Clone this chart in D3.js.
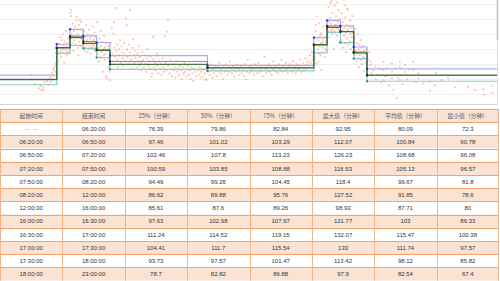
<!DOCTYPE html>
<html><head><meta charset="utf-8">
<script src="https://cdn.jsdelivr.net/npm/d3@7/dist/d3.min.js"></script>
<style>body{margin:0;background:#fff;overflow:hidden}svg{display:block}</style>
</head><body>
<svg id="c" width="500" height="281"></svg>
<script>
// ---------- DATA ----------
const startTimes = ["— —","06:20:00","06:50:00","07:20:00","07:50:00","08:20:00","12:00:00","16:00:00","16:30:00","17:00:00","17:30:00","18:00:00"];
const endTimes   = ["06:20:00","06:50:00","07:20:00","07:50:00","08:20:00","12:00:00","16:00:00","16:30:00","17:00:00","17:30:00","18:00:00","23:00:00"];
const p25  = [76.39,97.46,102.46,100.59,94.49,86.62,85.61,97.63,111.24,104.41,93.73,78.7];
const p50  = [79.86,101.02,107.8,103.85,99.26,89.88,87.6,102.98,114.52,111.7,97.57,82.82];
const p75  = [82.84,103.29,113.23,108.88,104.45,95.76,89.26,107.67,119.15,115.54,101.47,86.88];
const maxV = [92.95,112.07,126.23,116.53,118.4,127.52,98.93,121.77,132.07,133,113.42,97.9];
const meanV= [80.09,100.84,108.68,105.13,99.67,91.85,87.71,103,115.47,111.74,98.12,82.54];
const minV = [72.3,90.78,96.08,96.57,81.8,78.6,80,86.33,100.38,97.57,85.82,67.4];
const headers = ["起始时间","结束时间","25%（分钟）","50%（分钟）","75%（分钟）","最大值（分钟）","平均值（分钟）","最小值（分钟）"];
const gridValues = [70,80,90,100,110,120,130];
const timeDomain = [252, 1380];      // minutes since midnight
const valueDomain = [63.6, 132.7];   // minutes
// observed trip durations: [minute of day, duration]
const scatterPoints = [
[323,82.9],[331,76.9],[340,74],[344,75.6],[345,72.9],[349,72.9],[350,74.5],[353,78.2],[358,78.9],[360,80.2],[362,76.5],[365,81.5],[366,78.2],[369,84.2],[371,82.2],[372,86.2],[374,87.5],[376,85],[377,89],[378,90.5],
[381,95],[382,99],[383,92],[384,104],[385,101],[386,97],[387,108],[388,103],[389,99],[390,95],[391,106],[392,101],[393,98],[394,110],[395,103],[396,100],[397,91],[398,105],[399,97],[400,102],[401,112],[402,99],[403,104],[404,96],[405,101],[406,107],[407,98],[408,103],[409,100],
[411,124],[412,122],[413,126],[414,110],[415,104],[416,117],[417,108],[418,99],[419,112],[420,106],[421,115],[422,103],[423,109],[424,119],[425,121.6],[426,113],[427,101],[428,110],[429,96],[430,116],[431,105],[432,119.4],[433,108],[434,102],[435,118],[436,107],[437,113],[438,104],[439,110],
[441,112],[442,104],[443,99],[444,108],[445,101],[446,116],[447,103],[448,106],[449,98],[450,110],[451,104],[452,100],[453,113],[454,102],[455,107],[456,97],[457,105],[458,109],[459,101],[460,103],[461,115],[462,100],[463,106],[464,102],[465,111],[466,99],[467,104],[468,108],[469,101],
[471,118],[472,104],[473,97],[474,101],[475,92],[476,107],[477,99],[478,95],[479,112],[480,102],[481,94],[482,98],[483,105],[484,85],[485,100],[486,96],[487,109],[488,93],[489,101],[490,97],[491,82],[492,104],[493,80.7],[494,99],[495,88],[496,102],[497,94],[498,100],[499,85],
[500,79.5],[502,104],[504,113.9],[505,97],[506,92],[508,110.5],[509,118],[510,101],[511,95],[513,127.5],[514,99],[516,103],[517,93],[518,88],[520,100],[521,96],[523,106],[524,91],[526,102],[527,98],[529,94],[530,89],[532,104],[533,97],[535,92],[536,120.5],[538,116],[539,100],[540,95],[542,90],[543,103],[545,126],[546,98],[548,93],[549,87],[551,101],[552,106.6],[554,96],[555,91],[557,99],[558,94],[560,88],[562,97],[563,92],[565,102],[566,89],[568,95],[570,91],[571,86],[573,98],[575,93],[576,88],[578,96],[580,90],[582,85],[583,94],[585,100],[587,89],[588,92],[590,87],[592,95],[594,81.7],[595,84],[597,108.3],[598,93],[600,88],[602,91],[604,86],[606,97],[607,89],[609,84],[611,92],[613,87],[615,90],[617,83],[619,94],[620,88],[622,85],[624,108.8],[626,91],[628,86],[629,111.6],[631,119.4],[632,89],[634,84],[636,93],[638,87],[640,82],[642,90],[644,86],[646,88],[648,81],[650,92],[652,85],[654,87],[656,83],[658,89],[660,86],[662,80],[664,88],[666,84],[668,91],[670,85],[672,82],[674,87],[676,89],[678,83],[680,86],[682,80],[684,88],[686,84],[688,79],[690,87],[692,85],[694,82],[696,90],[698,86],[700,83],[702,88],[704,81],[706,85],[708,87],[710,82],[712,86],[714,84],[716,80],[718,79.5],
[721,85],[723,88],[725,83],[727,90],[729,86],[731,81],[733,87],[735,84],[737,89],[739,86],[741,82],[743,88],[745,85],[747,91],[749,87],[751,84],[753,86],[755,80],[757,88],[759,85],[761,90],[763,86],[765,83],[767,88],[769,85],[771,92],[773,87],[775,84],[777,89],[779,86],[781,82],[783,88],[785,85],[787,90],[789,87],[791,83],[793,86],[795,89],[797,84],[799,88],[801,86],[803,82],[805,90],[807,80],[809,85],[811,93],[813,88],[815,84],[817,86],[819,89],[821,85],[823,87],[825,83],[827,90],[829,86],[831,88],[833,84],[835,91],[837,87],[839,85],[841,89],[843,86],[845,82],[847,88],[849,95],[851,87],[853,84],[855,89],[857,86],[859,90],[861,85],[863,88],[865,83],[867,87],[869,92],[871,86],[873,89],[875,85],[877,88],[879,84],[881,90],[883,87],[885,86],[887,93],[889,88],[891,85],[893,89],[895,86],[897,91],[899,87],[901,84],[903,88],[905,90],[907,86],[909,89],[911,85],[913,92],[915,87],[917,88],[919,84],[921,90],[923,86],[925,89],[927,87],[929,93],[931,85],[933,88],[935,91],[937,86],[939,89],[941,94],[943,87],[945,90],[947,92],[949,88],[951,96],[953,91],[955,98],[957,93],[959,95],
[961,99],[962,108],[963,94],[964,112],[965,116],[966,90.6],[967,103],[968,121.7],[969,100],[970,106],[970,92],[971,97],[972,117],[973,102],[974,109],[975,96],[975,111],[976,104],[977,86.3],[978,110],[979,101],[980,98],[980,104],[981,106],[982,115],[983,103],[984,95],[985,108],[986,100],[987,105],[988,113],[989,99],
[991,118],[992,112],[993,128],[994,115],[995,108],[995,119],[996,121],[997,130.9],[998,113],[999,117],[1000,132],[1000,112],[1001,110],[1002,124],[1003,114],[1004,119],[1005,100.4],[1006,112],[1007,129],[1008,116],[1009,111],[1010,122],[1010,116],[1011,114],[1012,131],[1013,109],[1014,118],[1015,113],[1016,126],[1017,115],[1018,120],[1019,105],
[1021,115],[1022,106],[1023,124],[1024,112],[1025,101],[1026,118],[1027,133],[1028,109],[1029,114],[1030,129],[1030,104],[1031,121],[1032,111],[1033,98],[1034,116],[1035,127],[1035,107],[1036,113],[1037,126],[1038,103],[1039,112],[1040,115],[1041,105],[1042,119],[1043,110],[1044,100],[1045,114],[1046,108],[1047,122],[1048,111],[1049,97.6],
[1051,101],[1052,108],[1053,96],[1054,113.4],[1055,99],[1056,92],[1057,104],[1058,97],[1059,110],[1060,94],[1061,100],[1062,88],[1063,103],[1064,96],[1065,98],[1066,106],[1067,93],[1068,101],[1069,90],[1070,97],[1071,95],[1072,102],[1073,85.8],[1074,99],[1075,94],[1076,97],[1077,91],[1078,100],[1079,96],
[1082,93],[1085,97.9],[1088,91.7],[1088,89.5],[1090,84],[1094,86],[1098,88.4],[1100,80],[1104,83],[1108,87.3],[1112,78],[1117,91.7],[1117,86.2],[1117,79.5],[1121,82],[1125,87.3],[1130,76],[1136,90.6],[1136,85],[1136,80.7],[1140,73],[1145,87.3],[1147,67.4],[1150,81],[1154,91.7],[1154,88.4],[1154,82.9],[1154,79.5],[1160,77],[1166,89.5],[1166,85],[1170,80],[1175,86.6],[1184,91.7],[1184,86.2],[1190,78],[1196,84],[1196,80.7],[1207,77.3],[1222,78.4],[1222,72.5],[1233,76.2],[1236,84.4],[1248,79.5],[1263,80.7],[1279,74.7],[1308,75.1],[1324,72.9],[1342,73.4],[1344,70],[1361,75.6],[1363,71.1]
];

// ---------- CHART ----------
const svg = d3.select("#c");
const W = 500, chartH = 104, plotRight = 497;
const x = d3.scaleLinear().domain(timeDomain).range([0, W]);
const y = d3.scaleLinear().domain(valueDomain).range([chartH, 0]);
const toMin = s => { const p = s.split(":"); return +p[0]*60 + +p[1]; };
const stepStarts = startTimes.map((s,i) => i === 0 ? timeDomain[0] : toMin(s));

svg.append("defs").append("clipPath").attr("id","clip")
  .append("rect").attr("x",0).attr("y",0).attr("width",plotRight).attr("height",chartH);

const g = svg.append("g").attr("clip-path","url(#clip)");

// grid
g.selectAll("line.grid").data(gridValues).enter().append("line")
  .attr("x1",0).attr("x2",plotRight)
  .attr("y1",d=>Math.round(y(d))+0.5).attr("y2",d=>Math.round(y(d))+0.5)
  .attr("stroke","#efefef").attr("stroke-width",1);

// scatter
g.selectAll("rect.pt").data(scatterPoints).enter().append("rect")
  .attr("x",d=>x(d[0])-0.9).attr("y",d=>y(d[1])-0.9)
  .attr("width",1.8).attr("height",1.8)
  .attr("fill","#ff7048").attr("opacity",0.45);

// step lines
const stepLine = d3.line().x(d=>x(d[0])).y(d=>y(d[1])).curve(d3.curveStepAfter);
function seriesPts(vals){
  const pts = vals.map((v,i)=>[stepStarts[i], v]);
  pts.push([timeDomain[1], vals[vals.length-1]]);
  return pts;
}
const series = [
  {vals:p25,  color:"#7cc4c4", w:1.2, mk:"#1a8c8c", op:0.85},
  {vals:p75,  color:"#a0a0f2", w:1.2, mk:"#2020ff", op:0.85},
  {vals:meanV,color:"#707070", w:1.0, mk:"#222222", op:0.8},
  {vals:p50,  color:"#2f6f2f", w:1.3, mk:"#163f16", op:0.9}
];
series.forEach(s=>{
  g.append("path").datum(seriesPts(s.vals)).attr("d",stepLine)
   .attr("fill","none").attr("stroke",s.color).attr("stroke-width",s.w).attr("opacity",s.op);
});
series.forEach(s=>{
  g.selectAll(null).data(s.vals.slice(1).map((v,i)=>[stepStarts[i+1],v])).enter().append("rect")
   .attr("x",d=>x(d[0])-1).attr("y",d=>y(d[1])-1).attr("width",2).attr("height",2)
   .attr("fill",s.mk);
});

// chart frame (bottom + right edge)
svg.append("line").attr("x1",0).attr("x2",498).attr("y1",104.5).attr("y2",104.5).attr("stroke","#d4d4d4");
svg.append("line").attr("x1",497.5).attr("x2",497.5).attr("y1",0).attr("y2",104).attr("stroke","#dcdcdc");
svg.append("line").attr("x1",497.5).attr("x2",497.5).attr("y1",0).attr("y2",40).attr("stroke","#bdbdbd").attr("stroke-width",1.5);

// ---------- TABLE ----------
const tableTop = 109, rowH = 13.2, nCols = 8, colW = 499/8;
const rows = startTimes.map((s,i)=>[s, endTimes[i], p25[i], p50[i], p75[i], maxV[i], meanV[i], minV[i]]);
const tg = svg.append("g");
tg.append("rect").attr("x",0).attr("y",tableTop).attr("width",499).attr("height",rowH).attr("fill","#fbe3d4");
rows.forEach((r,i)=>{
  const ry = tableTop + rowH*(i+1);
  tg.append("rect").attr("x",0).attr("y",ry).attr("width",499).attr("height",rowH)
    .attr("fill", i%2===1 ? "#fbe3d4" : "#ffffff");
});
d3.range(rows.length+2).forEach(k=>{
  const yy = Math.round(tableTop + rowH*k)+0.5;
  tg.append("line").attr("x1",0).attr("x2",499).attr("y1",yy).attr("y2",yy)
    .attr("stroke","#f2a46e").attr("stroke-width",1);
});
d3.range(nCols+1).forEach(c=>{
  const xx = Math.min(498.5, Math.round(c*colW)+0.5);
  tg.append("line").attr("x1",xx).attr("x2",xx).attr("y1",tableTop).attr("y2",tableTop+rowH*(rows.length+1))
    .attr("stroke","#f4b48a").attr("stroke-width",1);
});
headers.forEach((h,c)=>{
  tg.append("text").attr("x",c*colW+colW/2).attr("y",tableTop+rowH/2+2)
    .attr("text-anchor","middle").attr("font-family","'Noto Sans CJK SC', sans-serif")
    .attr("font-size",5.8).attr("fill","#555").text(h);
});
rows.forEach((r,i)=>{
  const ry = tableTop + rowH*(i+1);
  r.forEach((v,c)=>{
    tg.append("text").attr("x",c*colW+colW/2).attr("y",ry+rowH/2+2.1)
      .attr("text-anchor","middle").attr("font-family","'Liberation Sans', Arial, sans-serif")
      .attr("font-size",6).attr("fill", (i===0&&c===0) ? "#aaa" : "#333").text(v);
  });
});
</script>
</body></html>
